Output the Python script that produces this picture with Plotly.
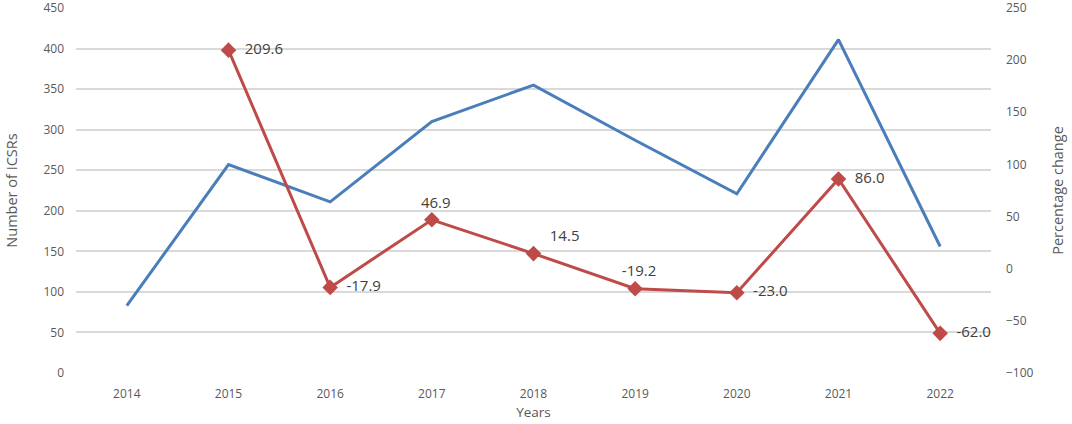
import plotly.graph_objects as go

years = ['2014', '2015', '2016', '2017', '2018', '2019', '2020', '2021', '2022']
icsrs = [83, 257, 211, 310, 355, 287, 221, 411, 156]
pct_years = ['2015', '2016', '2017', '2018', '2019', '2020', '2021', '2022']
pct_change = [209.6, -17.9, 46.9, 14.5, -19.2, -23.0, 86.0, -62.0]
pct_labels = ['209.6', '-17.9', '46.9', '14.5', '-19.2', '-23.0', '86.0', '-62.0']
label_pos = ['middle right', 'middle right', 'top center', 'top right',
             'top center', 'middle right', 'middle right', 'middle right']

blue = '#4A7EBB'
red = '#BE4B48'
grey_txt = '#595959'
font_name = 'Open Sans, Noto Sans, sans-serif'

fig = go.Figure()

fig.add_trace(go.Scatter(x=years, y=icsrs, mode='lines', name='Number of ICSRs',
                         line=dict(color=blue, width=3)))

fig.add_trace(go.Scatter(x=pct_years, y=pct_change, mode='lines+markers+text',
                         name='Percentage change', yaxis='y2',
                         line=dict(color=red, width=3),
                         marker=dict(symbol='diamond', size=12, color=red),
                         text=['  ' + t for t in pct_labels], textposition=label_pos,
                         textfont=dict(size=15, color='#404040', family=font_name),
                         cliponaxis=False))

fig.update_layout(
    width=1072, height=424,
    margin=dict(l=76, r=81, t=8, b=51, autoexpand=False),
    plot_bgcolor='white', paper_bgcolor='white',
    showlegend=False,
    font=dict(family=font_name, color=grey_txt, size=12),
    xaxis=dict(type='category', categoryorder='array', categoryarray=years,
               range=[-0.5, 8.5], ticklabelstandoff=12,
               title=dict(text='Years', font=dict(size=13.5), standoff=6),
               showgrid=False, zeroline=False, showline=False, ticks='',
               tickfont=dict(size=12)),
    yaxis=dict(range=[0, 450], dtick=50, showgrid=True, gridcolor='#D9D9D9',
               gridwidth=1.5, zeroline=False, ticklabeloverflow='allow',
               ticklabelstandoff=11,
               title=dict(text='Number of ICSRs', font=dict(size=14.5), standoff=22),
               tickfont=dict(size=12)),
    yaxis2=dict(range=[-100, 250], dtick=50, overlaying='y', side='right',
                showgrid=False, zeroline=False, ticklabeloverflow='allow',
                ticklabelstandoff=14,
                title=dict(text='Percentage change', font=dict(size=14.5), standoff=20),
                tickfont=dict(size=12)),
)

# drop the browser's default body margin so the figure sits at the page corner
fig.write_html("out.html", config={'displayModeBar': False},
               post_script="document.body.style.margin='0';document.body.style.overflow='hidden';")
